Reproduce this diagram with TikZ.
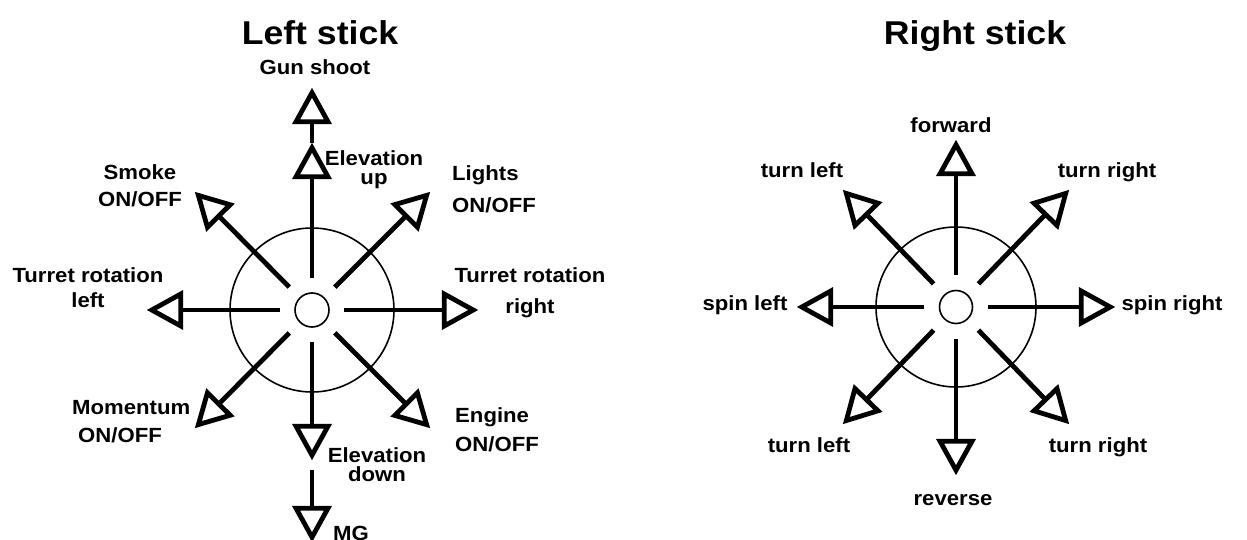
\documentclass[tikz,border=0pt]{standalone}
\usepackage{fontspec}
\setmainfont{Liberation Sans}[FakeStretch=1.08]
\usetikzlibrary{calc}
\tikzset{
  plain/.style={line width=4.8pt},
  tri/.style={line width=4.8pt, line join=miter},
  ring/.style={draw, circle, line width=1.6pt, inner sep=0pt},
  inner/.style={circle, inner sep=0pt, minimum size=64pt},
  lab/.style={font=\fontsize{20.5}{19}\selectfont\bfseries, inner sep=0pt, align=center},
  ttl/.style={font=\fontsize{33}{36}\selectfont\bfseries, inner sep=0pt},
}
% #1 = start (node or coordinate), #2 = outer tip coordinate
\newcommand{\stickarr}[2]{%
  \coordinate (sT) at ($(#2)!4.8pt!(#1)$);
  \coordinate (sB) at ($(sT)!29pt!(#1)$);
  \draw[plain] (#1) -- (sB);
  \draw[tri] (sT) -- ($(sB)!16pt!90:(sT)$) -- ($(sB)!16pt!-90:(sT)$) -- cycle;
}
\begin{document}
\begin{tikzpicture}[x=1pt, y=-1pt]
\useasboundingbox (0,0) rectangle (1247,540);
% ---------- Left stick ----------
\node[ring, minimum size=164pt] (Lbig) at (312,310) {};
\node[ring, minimum size=34pt] (Lsmall) at (312,310) {};
\node[inner] (Lin) at (312,310) {};
\coordinate (Leu) at (312,143);
\coordinate (Lgs) at (312,88);
\coordinate (Led) at (312,460);
\coordinate (Lmg0) at (312,470);
\coordinate (Lmg) at (312,542);
\coordinate (Lw) at (147,310);
\coordinate (Le) at (478,310);
\coordinate (Lnw) at (195,192);
\coordinate (Lne) at (430,192);
\coordinate (Lsw) at (195,428);
\coordinate (Lse) at (430,428);
\stickarr{Lin}{Leu}
\stickarr{Leu}{Lgs}
\stickarr{Lin}{Led}
\stickarr{Lmg0}{Lmg}
\stickarr{Lin}{Lw}
\stickarr{Lin}{Le}
\stickarr{Lin}{Lnw}
\stickarr{Lin}{Lne}
\stickarr{Lin}{Lsw}
\stickarr{Lin}{Lse}
\node[ttl, anchor=base] (Ltitle) at (320,45) {Left stick};
\node[lab, anchor=base] (tgs) at (315,75) {Gun shoot};
\node[lab, anchor=north] (teu) at (374,150) {Elevation\\up};
\node[lab, anchor=north west, align=left] (tli) at (452,165) {Lights\\[12pt]ON/OFF};
\node[lab, anchor=north] (tsm) at (140,164) {Smoke\\[8pt]ON/OFF};
\node[lab, anchor=north] (ttrl) at (88,267) {Turret rotation\\[6pt]left};
\node[lab, anchor=north] (ttrr) at (530,267) {Turret rotation\\[12pt]right};
\node[lab, anchor=north west, align=left] (tmo) at (72,400) {Momentum\\[9pt]\hspace*{6pt}ON/OFF};
\node[lab, anchor=north west, align=left] (ten) at (455,407) {Engine\\[9pt]ON/OFF};
\node[lab, anchor=north] (ted) at (377,447) {Elevation\\down};
\node[lab, anchor=north west] (tmg) at (333,526) {MG};
% ---------- Right stick ----------
\node[ring, minimum size=160pt] (Rbig) at (956,307) {};
\node[ring, minimum size=33pt] (Rsmall) at (956,307) {};
\node[inner] (Rin) at (956,307) {};
\coordinate (Rn) at (956,140);
\coordinate (Rs) at (956,475);
\coordinate (Rw) at (797,307);
\coordinate (Re) at (1115,307);
\coordinate (Rnw) at (843,190);
\coordinate (Rne) at (1069,190);
\coordinate (Rsw) at (843,424);
\coordinate (Rse) at (1069,424);
\stickarr{Rin}{Rn}
\stickarr{Rin}{Rs}
\stickarr{Rin}{Rw}
\stickarr{Rin}{Re}
\stickarr{Rin}{Rnw}
\stickarr{Rin}{Rne}
\stickarr{Rin}{Rsw}
\stickarr{Rin}{Rse}
\node[ttl, anchor=base] (Rtitle) at (975,45) {Right stick};
\node[lab, anchor=base] (tfw) at (951,133) {forward};
\node[lab, anchor=base] (ttl1) at (802,178) {turn left};
\node[lab, anchor=base] (ttr1) at (1107,178) {turn right};
\node[lab, anchor=base] (tsl) at (745,310) {spin left};
\node[lab, anchor=base] (tsr) at (1172,310) {spin right};
\node[lab, anchor=base] (ttl2) at (809,452) {turn left};
\node[lab, anchor=base] (ttr2) at (1098,452) {turn right};
\node[lab, anchor=base] (trv) at (953,505) {reverse};
\end{tikzpicture}
\end{document}
